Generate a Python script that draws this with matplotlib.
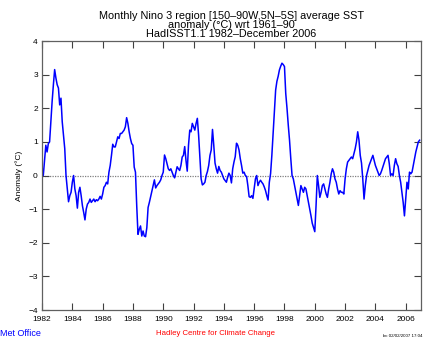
import numpy as np
import matplotlib
matplotlib.use("Agg")
import matplotlib.pyplot as plt

plt.rcParams['font.family'] = ['Liberation Sans', 'DejaVu Sans']

# Monthly Nino 3 SST anomaly (degC), Jan..Dec
nino3 = {
    1982: [0.26, 0.0, 0.45, 0.9, 0.7, 0.95, 1.0, 1.6, 2.2, 2.7, 3.15, 2.9],
    1983: [2.7, 2.6, 2.1, 2.3, 1.6, 1.2, 0.8, 0.0, -0.4, -0.78, -0.6, -0.5],
    1984: [-0.2, 0.0, -0.4, -0.6, -0.97, -0.5, -0.35, -0.6, -0.9, -1.1, -1.32, -1.0],
    1985: [-0.85, -0.8, -0.7, -0.8, -0.75, -0.7, -0.78, -0.72, -0.75, -0.7, -0.62, -0.7],
    1986: [-0.55, -0.35, -0.3, -0.2, -0.25, 0.1, 0.3, 0.6, 0.93, 0.85, 0.85, 1.0],
    1987: [1.15, 1.1, 1.25, 1.25, 1.3, 1.35, 1.45, 1.72, 1.55, 1.3, 1.1, 0.95],
    1988: [0.9, 0.25, 0.1, -0.9, -1.75, -1.6, -1.5, -1.8, -1.65, -1.8, -1.82, -1.55],
    1989: [-0.95, -0.8, -0.63, -0.45, -0.3, -0.13, -0.37, -0.3, -0.25, -0.2, -0.13, 0.0],
    1990: [0.1, 0.61, 0.5, 0.35, 0.2, 0.15, 0.2, 0.1, 0.0, -0.07, 0.1, 0.26],
    1991: [0.2, 0.15, 0.3, 0.55, 0.6, 0.86, 0.45, 0.13, 0.9, 1.35, 1.3, 1.55],
    1992: [1.45, 1.35, 1.55, 1.7, 1.2, 0.56, -0.1, -0.28, -0.25, -0.2, 0.0, 0.12],
    1993: [0.3, 0.6, 0.76, 1.37, 0.9, 0.37, 0.2, 0.07, 0.27, 0.15, 0.1, 0.0],
    1994: [-0.1, -0.15, -0.2, -0.05, 0.07, 0.0, -0.22, 0.2, 0.4, 0.56, 0.96, 0.9],
    1995: [0.76, 0.5, 0.3, 0.07, 0.1, 0.0, -0.03, -0.3, -0.63, -0.65, -0.6, -0.68],
    1996: [-0.4, -0.1, 0.0, -0.3, -0.2, -0.14, -0.2, -0.25, -0.34, -0.45, -0.6, -0.73],
    1997: [-0.2, 0.06, 0.6, 1.25, 1.9, 2.54, 2.8, 2.95, 3.14, 3.25, 3.34, 3.3],
    1998: [3.24, 2.44, 2.0, 1.5, 1.05, 0.5, 0.0, -0.1, -0.3, -0.5, -0.7, -0.89],
    1999: [-0.6, -0.3, -0.4, -0.5, -0.35, -0.4, -0.6, -0.8, -1.0, -1.2, -1.42, -1.55],
    2000: [-1.67, -0.9, 0.0, -0.3, -0.65, -0.5, -0.3, -0.25, -0.4, -0.55, -0.65, -0.4],
    2001: [-0.2, 0.05, 0.2, 0.1, -0.1, -0.2, -0.4, -0.55, -0.45, -0.5, -0.5, -0.55],
    2002: [-0.1, 0.2, 0.4, 0.45, 0.5, 0.55, 0.5, 0.65, 0.8, 1.0, 1.3, 1.05],
    2003: [0.6, 0.37, -0.1, -0.7, -0.3, 0.0, 0.15, 0.3, 0.4, 0.5, 0.6, 0.45],
    2004: [0.3, 0.2, 0.1, 0.0, 0.05, 0.15, 0.27, 0.4, 0.5, 0.55, 0.6, 0.35],
    2005: [0.0, 0.05, 0.0, 0.3, 0.5, 0.35, 0.27, 0.0, -0.2, -0.5, -0.8, -1.2],
    2006: [-0.7, -0.2, -0.4, 0.1, 0.05, 0.1, 0.3, 0.5, 0.7, 0.85, 1.0, 1.05],
}

years = sorted(nino3)
t = []
values = []
for yr in years:
    for m, v in enumerate(nino3[yr]):
        t.append(yr + m / 12.0)
        values.append(v)

xticks = list(range(1982, 2007, 2))
yticks = list(range(-4, 5))

fig = plt.figure(figsize=(4.4, 3.46), dpi=100)
ax = fig.add_axes([0.0955, 0.104, 0.861, 0.7775])

ax.axhline(0, color='#808080', lw=0.9, linestyle=(0, (1, 1)), zorder=1)
ax.plot(t, values, color='#0000ff', lw=1.1, zorder=2)

ax.set_xlim(1982, 2007)
ax.set_ylim(-4, 4)
ax.set_xticks(xticks)
ax.set_yticks(yticks)
ax.tick_params(direction='in', length=5, width=0.8, color='#404040',
               labelsize=6, top=True, right=True)
ax.tick_params(axis='x', pad=4)
ax.tick_params(axis='y', pad=3)
for s in ax.spines.values():
    s.set_color('#606060')
    s.set_linewidth(0.9)

ax.set_ylabel('Anomaly (°C)', fontsize=6, labelpad=4)

ax.set_title('Monthly Nino 3 region [150\u201390W,5N\u20135S] average SST\n'
             'anomaly (°C) wrt 1961\u201390\n'
             'HadISST1.1 1982\u2013December 2006',
             fontsize=7.8, linespacing=0.85, pad=3)

fig.text(0.0, 0.035, 'Met Office', color='#0000ff', fontsize=6.5, va='center')
fig.text(0.49, 0.035, 'Hadley Centre for Climate Change', color='#ff0000',
         fontsize=5.6, ha='center', va='center')
fig.text(0.87, 0.03, 'bc 02/02/2007 17:04', color='black', fontsize=3.2,
         va='center')

fig.savefig('out.png', dpi=100)
